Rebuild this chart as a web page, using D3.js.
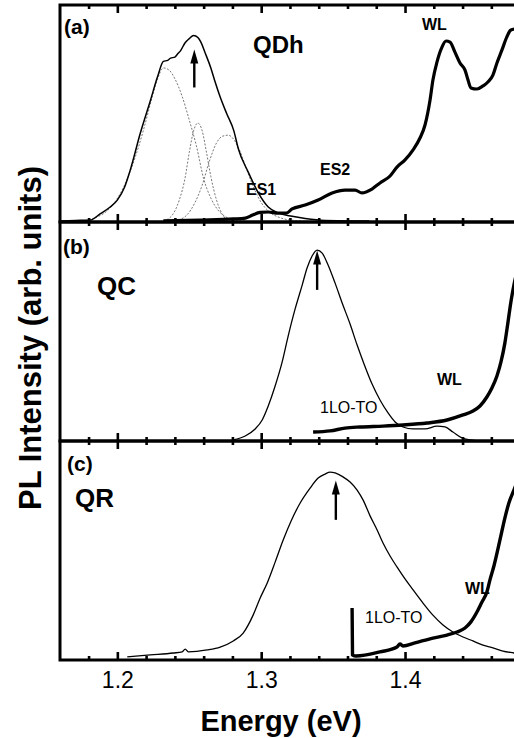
<!DOCTYPE html>
<html>
<head>
<meta charset="utf-8">
<script src="https://cdn.jsdelivr.net/npm/d3@7"></script>
<style>
  body { margin: 0; background: #fff; }
  svg { display: block; font-family: "Liberation Sans", Arial, sans-serif; }
</style>
</head>
<body>
<div class="chart"></div>
<script>
// tick values on the energy axis
var majorTicks = [1.2, 1.3, 1.4];
var minorTicks = [1.18, 1.22, 1.24, 1.26, 1.28, 1.32, 1.34, 1.36, 1.38, 1.42, 1.44, 1.46];

// (a) QDh : [energy (eV), intensity (arb.)]
var qdhPL = [[1.161,0.5],[1.171,0.7],[1.181,0.9],[1.188,3.7],[1.195,6.9],[1.2,10.1],[1.205,16],[1.209,24],
  [1.216,41],[1.223,56],[1.228,67],[1.232,74],[1.235,74.5],[1.237,75.5],[1.240,76],[1.242,77.5],[1.244,79],
  [1.247,82.5],[1.250,84.5],[1.253,86],[1.256,85],[1.258,83],[1.261,78],[1.265,71],[1.268,64.5],
  [1.2715,57.6],[1.276,50],[1.281,42],[1.284,34],[1.291,23],[1.298,13.4],[1.3049,6.9],[1.3118,4.2],
  [1.3215,2.6],[1.3306,1.6],[1.3444,0.7],[1.3618,0.5],[1.375,0.5]];
var qdhWL = [[1.232,0.5],[1.2576,0.9],[1.2806,1.4],[1.289,1.8],[1.294,3.2],[1.2993,4.4],[1.3049,4.6],
  [1.3118,4.1],[1.3174,4.1],[1.3215,6.0],[1.3306,7.8],[1.3396,10.1],[1.3493,13.4],[1.3583,14.7],
  [1.3653,14.7],[1.370,13.4],[1.377,15.2],[1.3826,18],[1.3896,21.2],[1.3944,25.3],[1.4,28.6],
  [1.4056,33.2],[1.4104,38.7],[1.4139,44.7],[1.4174,56.2],[1.4194,65.4],[1.4222,73.7],[1.4257,80.6],
  [1.4285,83.4],[1.4313,82.9],[1.4347,78.3],[1.4382,73.3],[1.4417,70],[1.4438,65.4],[1.4458,61.8],
  [1.45,61.3],[1.4542,62.7],[1.4576,64.5],[1.4611,67.7],[1.4639,73.3],[1.4674,79.3],[1.4708,85.3],
  [1.4736,88.5],[1.477,89]];
// gaussian fit components (dashed)
var qdhFit1 = [[1.175,0.5],[1.185,2],[1.195,6.5],[1.205,17],[1.212,29],[1.218,42],[1.224,57],[1.228,66],
  [1.232,71],[1.236,70],[1.240,66],[1.245,58],[1.250,47],[1.255,35],[1.260,20],[1.265,11],[1.270,5.5],
  [1.275,2.5],[1.282,0.8],[1.290,0.3]];
var qdhFit2 = [[1.232,0.5],[1.238,3],[1.243,10],[1.247,20],[1.250,32],[1.253,42],[1.256,45.6],[1.259,42],
  [1.262,32],[1.265,21],[1.269,10],[1.273,3.5],[1.278,0.5]];
var qdhFit3 = [[1.240,0.5],[1.248,3],[1.254,9],[1.259,17],[1.264,28],[1.269,36.5],[1.273,39.5],[1.277,40],
  [1.281,38],[1.285,33],[1.290,24],[1.295,15.5],[1.300,9],[1.306,4.5],[1.313,2],[1.322,0.8],[1.335,0.3]];

// (b) QC
var qcPL = [[1.2806,0.5],[1.2889,2.3],[1.2958,5.5],[1.3007,9.6],[1.3049,16],[1.3097,25.1],[1.3146,36.1],
  [1.3188,48],[1.3236,60.3],[1.3285,71.2],[1.3319,79],[1.3354,84.5],[1.3389,87.2],[1.3424,85.8],
  [1.3465,80.4],[1.3514,72.1],[1.3563,63],[1.3618,53.4],[1.3667,43.8],[1.3715,35.2],[1.3771,26],
  [1.3826,18.7],[1.3882,12.8],[1.3931,8.7],[1.3986,6.4],[1.4056,5.5],[1.4139,5.5],[1.4222,6.8],
  [1.4278,6.4],[1.4333,4.1],[1.4396,1.4],[1.4451,0.5],[1.452,0]];
var qcWL = [[1.3361,4.1],[1.3479,4.6],[1.3583,5.9],[1.3688,6.4],[1.3847,6.8],[1.3986,7.3],[1.4153,8.2],
  [1.4292,9.6],[1.4403,11.9],[1.4472,13.7],[1.4521,16],[1.4569,20.1],[1.4604,24.2],[1.4639,29.7],
  [1.4667,36.1],[1.4694,44.7],[1.4715,53.9],[1.4736,63.5],[1.4757,71.2],[1.4778,77.2]];

// (c) QR
var qrPL = [[1.2069,1.4],[1.2229,2.3],[1.2389,3.2],[1.2451,3.7],[1.2472,5.0],[1.2493,3.7],[1.2625,4.6],
  [1.2715,5.9],[1.2806,8.7],[1.2875,12.3],[1.2944,20.5],[1.2993,28.3],[1.3042,35.2],[1.3097,44.7],
  [1.3153,54.8],[1.3208,63.5],[1.3271,71.7],[1.3340,78.5],[1.3396,83.1],[1.3444,84.9],[1.3479,85.8],
  [1.3514,85.4],[1.3569,83.6],[1.3618,81.3],[1.3667,77.6],[1.3708,73.1],[1.3757,65.8],[1.3806,59.4],
  [1.3847,53.4],[1.3896,47.5],[1.3944,42.5],[1.4,37],[1.4056,32],[1.4125,26],[1.4194,20.5],
  [1.4264,16],[1.4333,12.8],[1.4403,10.5],[1.4472,8.7],[1.4542,6.8],[1.4611,5.5],[1.4681,4.1],
  [1.4757,3.2],[1.48,2.7]];
var qrWL = [[1.3632,23.7],[1.3635,2.3],[1.366,1.8],[1.3826,3.7],[1.3944,5.9],[1.3965,7.3],[1.3986,6.4],
  [1.4069,7.8],[1.4194,10],[1.4292,11.4],[1.4361,12.8],[1.4417,14.6],[1.4458,17.4],[1.45,21.9],
  [1.4535,26.5],[1.4569,31],[1.459,36.5],[1.4618,42.9],[1.4660,54.8],[1.4694,64.8],[1.4722,71.7],
  [1.4757,77.6],[1.4785,82.2]];

// peak arrows: energy, intensity of tail, intensity of tip
var arrowA = [1.2535, 62, 79.5];
var arrowB = [1.3389, 69, 87];
var arrowC = [1.3519, 64, 82];

var svgWidth = 514, svgHeight = 738;
var left = 60, right = 520;

var svg = d3.select(".chart").append("svg")
  .attr("width", svgWidth)
  .attr("height", svgHeight);

var x = d3.scaleLinear().domain([1.16, 1.48]).range([59.8, 520.1]);

var panels = [
  { top: 5, bottom: 222, series: [
      { d: qdhFit1, w: 0.8, dash: "2,1.6", c: "#555" },
      { d: qdhFit2, w: 0.8, dash: "2,1.6", c: "#555" },
      { d: qdhFit3, w: 0.8, dash: "2,1.6", c: "#555" },
      { d: qdhPL, w: 1.5 },
      { d: qdhWL, w: 3.2 }], arrow: arrowA },
  { top: 222, bottom: 441, series: [
      { d: qcPL, w: 1.3 },
      { d: qcWL, w: 3.4 }], arrow: arrowB },
  { top: 441, bottom: 660, series: [
      { d: qrPL, w: 1.3 },
      { d: qrWL, w: 3.4 }], arrow: arrowC }
];

var defs = svg.append("defs");

panels.forEach(function(p, i) {
  var y = d3.scaleLinear().domain([0, 100]).range([p.bottom, p.top]);
  var g = svg.append("g");

  defs.append("clipPath").attr("id", "clip" + i)
    .append("rect")
    .attr("x", left).attr("y", p.top)
    .attr("width", right - left).attr("height", p.bottom - p.top);

  var line = d3.line()
    .x(d => x(d[0]))
    .y(d => y(d[1]))
    .curve(d3.curveMonotoneX);

  var plot = g.append("g").attr("clip-path", "url(#clip" + i + ")");
  p.series.forEach(function(s) {
    plot.append("path")
      .attr("d", line(s.d))
      .attr("fill", "none")
      .attr("stroke", s.c || "#000")
      .attr("stroke-width", s.w)
      .attr("stroke-dasharray", s.dash || null)
      .attr("stroke-linejoin", "round");
  });

  // arrow marking the peak
  var ax = x(p.arrow[0]);
  g.append("line")
    .attr("x1", ax).attr("x2", ax)
    .attr("y1", y(p.arrow[1])).attr("y2", y(p.arrow[2]) + 10)
    .attr("stroke", "#000").attr("stroke-width", 2.4);
  g.append("path")
    .attr("d", d3.line()([[ax - 4, y(p.arrow[2]) + 14], [ax, y(p.arrow[2])], [ax + 4, y(p.arrow[2]) + 14]]) + "Z")
    .attr("fill", "#000");

  // inward ticks top and bottom
  var axes = [
    { a: d3.axisTop(x), at: p.top },
    { a: d3.axisBottom(x), at: p.bottom }
  ];
  axes.forEach(function(o) {
    var major = g.append("g").attr("transform", `translate(0,${o.at})`)
      .call(o.a.tickValues(majorTicks).tickSize(-8).tickFormat(""));
    major.select(".domain").remove();
    major.selectAll("line").attr("stroke-width", 2.6);
    var minor = g.append("g").attr("transform", `translate(0,${o.at})`)
      .call(o.a.tickValues(minorTicks).tickSize(-4).tickFormat(""));
    minor.select(".domain").remove();
    minor.selectAll("line").attr("stroke-width", 2.6);
  });

  g.append("rect")
    .attr("x", left).attr("y", p.top)
    .attr("width", right - left).attr("height", p.bottom - p.top)
    .attr("fill", "none").attr("stroke", "#000").attr("stroke-width", 3);

  // tick labels on the lowest panel only
  if (i === panels.length - 1) {
    var labels = svg.append("g").attr("transform", `translate(0,${p.bottom})`)
      .call(d3.axisBottom(x).tickValues(majorTicks).tickSize(0).tickPadding(12).tickFormat(d3.format(".1f")));
    labels.select(".domain").remove();
    labels.selectAll("text")
      .attr("font-size", "23px")
      .attr("font-family", "Liberation Sans, Arial, sans-serif")
      .attr("fill", "#000");
  }
});

// panel texts
function label(t, px, py, size, bold) {
  svg.append("text")
    .attr("x", px).attr("y", py)
    .attr("font-size", size + "px")
    .attr("font-weight", bold ? "bold" : "normal")
    .text(t);
}
label("(a)", 64, 34, 21, true);
label("QDh", 253, 53, 24, true);
label("WL", 422, 30, 16, true);
label("ES2", 320, 175, 16, true);
label("ES1", 246, 195, 16, true);

label("(b)", 63, 254, 21, true);
label("QC", 97, 295, 26, true);
label("WL", 437, 385, 16, true);
label("1LO-TO", 320, 413, 16, false);

label("(c)", 67, 471, 21, true);
label("QR", 75, 507, 26, true);
label("WL", 465, 594, 16, true);
label("1LO-TO", 365, 623, 16, false);

// axis titles
svg.append("text")
  .attr("x", 281).attr("y", 731)
  .attr("text-anchor", "middle")
  .attr("font-size", "29px")
  .attr("font-weight", "bold")
  .text("Energy (eV)");

svg.append("text")
  .attr("transform", "translate(41,338)rotate(-90)")
  .attr("text-anchor", "middle")
  .attr("font-size", "31px")
  .attr("font-weight", "bold")
  .text("PL Intensity (arb. units)");
</script>
</body>
</html>
